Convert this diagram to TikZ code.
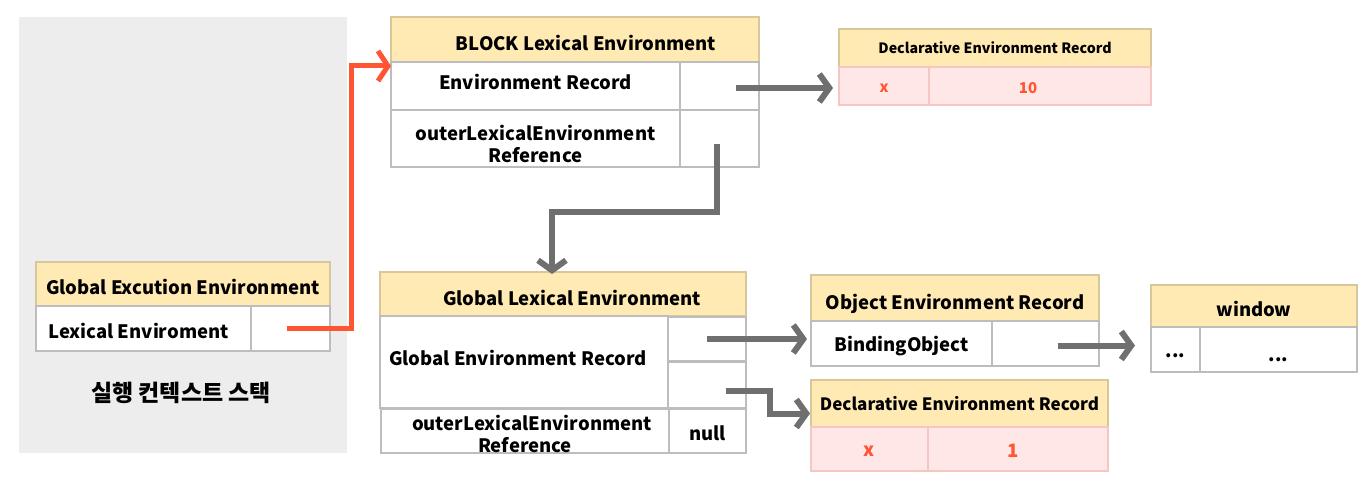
\documentclass[tikz,border=0pt]{standalone}
\usepackage{fontspec}
\setmainfont{Noto Sans CJK KR}
\usetikzlibrary{arrows.meta}

\definecolor{hdrfill}{HTML}{FFEAB4}
\definecolor{hdrline}{HTML}{D8C79A}
\definecolor{cellline}{HTML}{BDBDBD}
\definecolor{valfill}{HTML}{FFE7E7}
\definecolor{valline}{HTML}{F5C6C2}
\definecolor{ptrred}{HTML}{FF5533}
\definecolor{ptrgray}{HTML}{6F6F6F}
\definecolor{stackbg}{HTML}{EDEDED}

% text moved up or down inside its box, box size kept
\newcommand{\tx}[2]{\raisebox{#1}[\height][\depth]{#2}}

\tikzset{
  box/.style={rectangle, anchor=north west, inner sep=0pt, outer sep=0pt,
    line width=1.2pt, align=center, font=\bfseries\fontsize{18.5}{22}\selectfont},
  hdr/.style={box, draw=hdrline, fill=hdrfill},
  cell/.style={box, draw=cellline, fill=white},
  valcell/.style={box, draw=valline, fill=valfill, text=ptrred},
  redptr/.style={draw=ptrred, line width=5pt, -{Straight Barb[length=10pt,width=30pt]}},
  grayptr/.style={draw=ptrgray, line width=6pt, -{Straight Barb[length=10pt,width=28pt]}}
}

\begin{document}
\begin{tikzpicture}[x=1pt,y=-1pt]
\useasboundingbox (0,0) rectangle (1368,486);

% execution context stack
  \fill[stackbg] (19,17) rectangle (347,453);
  \node[hdr, minimum width=294pt, minimum height=44pt] (gec) at (36,262) {\tx{-3pt}{Global Excution Environment}};
  \node[cell, minimum width=215pt, minimum height=45pt] (lexname) at (36,306) {\tx{-2pt}{Lexical Enviroment}\hspace{10pt}};
  \node[cell, minimum width=79pt, minimum height=45pt] (lexval) at (251,306) {};
  \node[font=\bfseries\fontsize{23}{26}\selectfont] (stacklabel) at (181,393) {실행 컨텍스트 스택};

% block lexical environment
  \node[hdr, minimum width=368pt, minimum height=45pt] (blockhdr) at (391,17) {\tx{-3pt}{\hspace{22pt}BLOCK Lexical Environment}};
  \node[cell, minimum width=289pt, minimum height=48pt] (blockrec) at (391,62) {\tx{4pt}{Environment Record}};
  \node[cell, minimum width=79pt, minimum height=48pt] (blockrecval) at (680,62) {};
  \node[cell, minimum width=289pt, minimum height=57pt] (blockouter) at (391,110) {\tx{-5pt}{outerLexicalEnvironment}\\\tx{-5pt}{Reference}};
  \node[cell, minimum width=79pt, minimum height=57pt] (blockouterval) at (680,110) {};

% declarative record of the block
  \node[hdr, minimum width=312pt, minimum height=38pt, font=\bfseries\fontsize{14.2}{18}\selectfont] (declahdr) at (839,29) {Declarative Environment Record};
  \node[valcell, minimum width=90pt, minimum height=38pt, font=\bfseries\fontsize{15}{18}\selectfont] (declax) at (839,67) {\tx{-2pt}{x}};
  \node[valcell, minimum width=222pt, minimum height=38pt, font=\bfseries\fontsize{15}{18}\selectfont] (declaval) at (929,67) {\tx{-2pt}{10}\hspace{24pt}};

% global lexical environment
  \node[hdr, minimum width=366pt, minimum height=44pt] (globhdr) at (380,272) {\tx{-4pt}{\hspace{18pt}Global Lexical Environment}};
  \node[cell, minimum width=288pt, minimum height=92pt] (globrec) at (380,316) {\tx{4pt}{Global Environment Record}\hspace{12pt}};
  \node[cell, minimum width=78pt, minimum height=44pt] (globobj) at (668,317) {};
  \node[cell, minimum width=78pt, minimum height=46pt] (globdecl) at (668,362) {};
  \node[cell, minimum width=288pt, minimum height=44pt] (globouter) at (381,409) {\tx{-3pt}{\hspace{14pt}outerLexicalEnvironment}\\\tx{-3pt}{Reference}};
  \node[cell, minimum width=77pt, minimum height=44pt] (globnull) at (669,409) {\tx{-2pt}{null}};

% object record
  \node[hdr, minimum width=288pt, minimum height=46pt] (objhdr) at (811,275) {\tx{-6pt}{Object Environment Record}};
  \node[cell, minimum width=181pt, minimum height=45pt] (objbind) at (811,321) {\tx{-3pt}{BindingObject}};
  \node[cell, minimum width=107pt, minimum height=45pt] (objval) at (992,321) {};

% declarative record of the global
  \node[hdr, minimum width=297pt, minimum height=47pt, font=\bfseries\fontsize{17}{22}\selectfont] (declbhdr) at (811,380) {Declarative Environment Record};
  \node[valcell, minimum width=117pt, minimum height=44pt] (declbx) at (811,427) {\tx{-2pt}{x}};
  \node[valcell, minimum width=180pt, minimum height=44pt] (declbval) at (928,427) {\tx{-2pt}{1}\hspace{10pt}};

% window object
  \node[hdr, minimum width=206pt, minimum height=42pt] (winhdr) at (1151,285) {\tx{-3pt}{window}};
  \node[cell, minimum width=49pt, minimum height=45pt] (wina) at (1151,327) {\tx{-6pt}{...}};
  \node[cell, minimum width=157pt, minimum height=45pt] (winb) at (1200,327) {\tx{-10pt}{...}};

% the links
  \draw[redptr] ([xshift=-4pt]lexval.center) -- ++(65,0) |- ([yshift=-4pt]blockhdr.south west);
  \draw[grayptr, shorten >=6pt] ([xshift=16pt,yshift=-2pt]blockrecval.center) -- ([yshift=-2pt]declax.west);
  \draw[grayptr] ([xshift=-3pt,yshift=-6pt]blockouterval.center) -- ++(0,68) -| ([xshift=-11pt,yshift=-2pt]globhdr.north);
  \draw[grayptr, shorten >=4pt] (globobj.center) -- (globobj.center -| objbind.west);
  \draw[grayptr] ([xshift=19pt,yshift=-6pt]globdecl.center) -- ++(44,0) |- ([xshift=-1pt,yshift=-10pt]declbhdr.west);
  \draw[grayptr, shorten >=16pt] ([xshift=12pt,yshift=-2pt]objval.center) -- ([yshift=-2pt]objval.center -| wina.west);

\end{tikzpicture}
\end{document}
